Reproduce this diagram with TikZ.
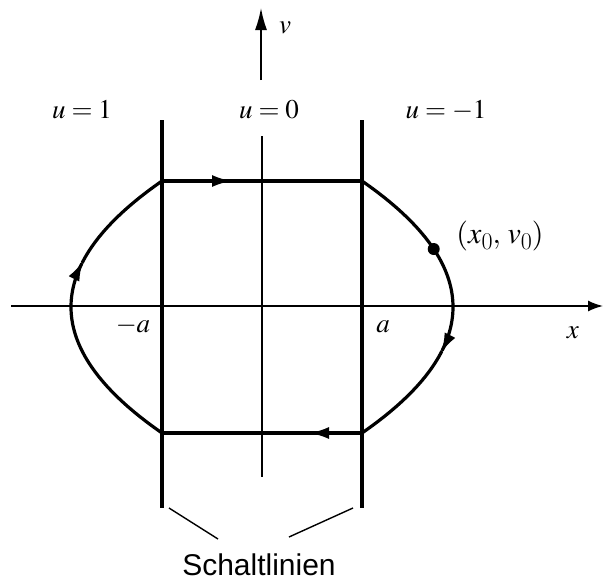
\documentclass[tikz,border=0pt]{standalone}
\usepackage{mathptmx}
\usepackage{fontspec}
\newfontfamily\sfont{Liberation Sans}
\usetikzlibrary{arrows.meta}
\newcommand{\bigsub}[1]{\raisebox{-6pt}{\fontsize{24}{24}\selectfont #1}}
\begin{document}
\begin{tikzpicture}[x=1pt,y=-1pt,
  axisline/.style={line width=1.6pt},
  switchline/.style={line width=3.3pt},
  traj/.style={line width=3.2pt, line join=round},
  trajtip/.style={-{Latex[length=20pt,width=12pt]}},
  lab/.style={anchor=base, inner sep=0pt, font=\fontsize{27}{32}\selectfont},
  leader/.style={line width=1.4pt},
]
\useasboundingbox (0,0) rectangle (603,581);
% coordinates
\coordinate (xs) at (11,306);
\coordinate (xe) at (603,306);
\coordinate (vs) at (261,80);
\coordinate (ve) at (261,8);
\coordinate (cs) at (262,136);
\coordinate (ce) at (262,477);
\coordinate (ls) at (162,120);
\coordinate (le) at (162,508);
\coordinate (rs) at (362,120);
\coordinate (re) at (362,508);
\coordinate (tl) at (162,181);
\coordinate (tr) at (362,181);
\coordinate (bl) at (162,433);
\coordinate (br) at (362,433);
\coordinate (ttip) at (232,181);
\coordinate (btip) at (309,433);
% axes
\draw[axisline,-{Latex[length=15pt,width=11pt]}] (xs) -- (xe);
\draw[axisline,-{Latex[length=22pt,width=12pt]}] (vs) -- (ve);
\draw[axisline] (cs) -- (ce);
% switching lines
\draw[switchline] (ls) -- (le);
\draw[switchline] (rs) -- (re);
% trajectory
\draw[traj] (tl) -- (tr);
\draw[traj,trajtip] (tl) -- (ttip);
\draw[traj] (br) -- (bl);
\draw[traj,trajtip] (br) -- (btip);
\draw[traj,trajtip] plot[domain=-126:46, samples=60] ({453-91*(\x/126)^2},{307+\x});
\draw[traj] plot[domain=44:126, samples=40] ({453-91*(\x/126)^2},{307+\x});
\draw[traj,trajtip] plot[domain=-126:46, samples=60] ({71+91*(\x/126)^2},{307-\x});
\draw[traj] plot[domain=44:126, samples=40] ({71+91*(\x/126)^2},{307-\x});
% initial point
\fill ({453-91*(58/126)^2},249) circle (6pt);
% labels
\node[lab] (vl) at (285,33) {$v$};
\node[lab] (u1) at (82,118) {$u=1$};
\node[lab] (u0) at (269,118) {$u=0$};
\node[lab] (um) at (446,118) {$u=-1$};
\node[lab,font=\fontsize{30}{36}\selectfont] (pt) at (500,243) {$(x\bigsub{0},\,v\bigsub{0})$};
\node[lab] (ma) at (133,332) {$-a$};
\node[lab] (pa) at (383,332) {$a$};
\node[lab] (xl) at (573,338) {$x$};
\node[anchor=base,inner sep=0pt,font=\sfont\fontsize{30}{36}\selectfont] (sl) at (259,575) {Schaltlinien};
% leader lines
\coordinate (l1a) at (169,508);
\coordinate (l1b) at (218,539);
\coordinate (l2a) at (353,508);
\coordinate (l2b) at (289,537);
\draw[leader] (l1a) -- (l1b);
\draw[leader] (l2a) -- (l2b);
\end{tikzpicture}
\end{document}
